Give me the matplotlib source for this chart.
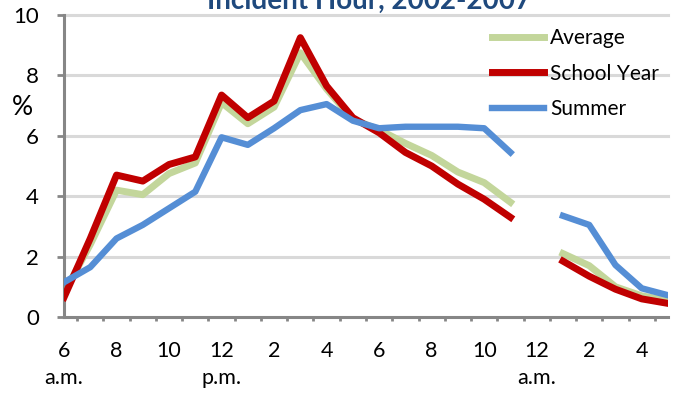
import numpy as np
import matplotlib
matplotlib.use("Agg")
import matplotlib.pyplot as plt

plt.rcParams['font.family'] = ['Lato', 'DejaVu Sans']

# hour of day, 6 a.m. (6) through 5 a.m. next day (29); midnight not reported
hours = list(range(6, 30))
average = [0.8, 2.4, 4.2, 4.05, 4.75, 5.1, 7.1, 6.4, 6.95, 8.75, 7.55, 6.55,
           6.2, 5.75, 5.35, 4.8, 4.45, 3.8, np.nan, 2.1, 1.7, 1.0, 0.7, 0.55]
school_year = [0.65, 2.6, 4.7, 4.5, 5.05, 5.3, 7.35, 6.6, 7.15, 9.25, 7.65, 6.6,
               6.1, 5.45, 5.0, 4.4, 3.9, 3.3, np.nan, 1.85, 1.35, 0.92, 0.6, 0.45]
summer = [1.15, 1.65, 2.6, 3.05, 3.6, 4.15, 5.95, 5.7, 6.25, 6.85, 7.05, 6.5,
          6.25, 6.3, 6.3, 6.3, 6.25, 5.45, np.nan, 3.35, 3.05, 1.72, 0.95, 0.72]

tick_hours = list(range(6, 30, 2))
tick_labels = ['6', '8', '10', '12', '2', '4', '6', '8', '10', '12', '2', '4']
period_labels = [(6, 'a.m.'), (12, 'p.m.'), (24, 'a.m.')]

grey = '#868686'

fig = plt.figure(figsize=(6.78, 3.93), dpi=100)
ax = fig.add_axes([64 / 678, 1 - 317 / 393, 604 / 678, 302 / 393])

for y in range(2, 11, 2):
    ax.axhline(y, color='#D9D9D9', lw=2.2, zorder=0, clip_on=False)

ax.plot(hours, average, color='#C3D69B', lw=5, label='Average',
        solid_joinstyle='round', zorder=2)
ax.plot(hours, school_year, color='#C00000', lw=5, label='School Year',
        solid_joinstyle='round', zorder=3)
ax.plot(hours, summer, color='#558ED5', lw=4.6, label='Summer',
        solid_joinstyle='round', zorder=4)

ax.set_xlim(6, 29)
ax.set_ylim(0, 10)
ax.set_yticks(range(0, 11, 2))
ax.set_xticks(tick_hours)
ax.set_xticklabels(tick_labels)
ax.set_xticks(np.arange(6.5, 29, 1), minor=True)

for side in ['top', 'right']:
    ax.spines[side].set_visible(False)
for side in ['left', 'bottom']:
    ax.spines[side].set_color(grey)
    ax.spines[side].set_linewidth(2.2)

ax.tick_params(axis='y', length=5, width=2, color=grey, pad=13, labelsize=16)
ax.tick_params(axis='x', which='major', length=0, pad=17, labelsize=15.5)
ax.tick_params(axis='x', which='minor', length=3, width=2, color=grey)

for x, txt in period_labels:
    ax.text(x, -0.202, txt, transform=ax.get_xaxis_transform(),
            ha='center', va='center', fontsize=15.5)

ax.text(-0.068, 0.695, '%', transform=ax.transAxes, ha='center',
        va='center', fontsize=19)

fig.text(0.545, 1 - 9 / 393, 'Incident Hour, 2002-2007', ha='center',
         va='baseline', fontsize=20, fontweight='bold', color='#1F497D')

leg = ax.legend(loc='upper left', bbox_to_anchor=(492 / 678, 1 - 28 / 393),
                bbox_transform=fig.transFigure, frameon=False, fontsize=15,
                borderpad=0, borderaxespad=0, handlelength=2.5,
                handletextpad=0.3, labelspacing=0.75)

fig.savefig('out.png', dpi=100)
